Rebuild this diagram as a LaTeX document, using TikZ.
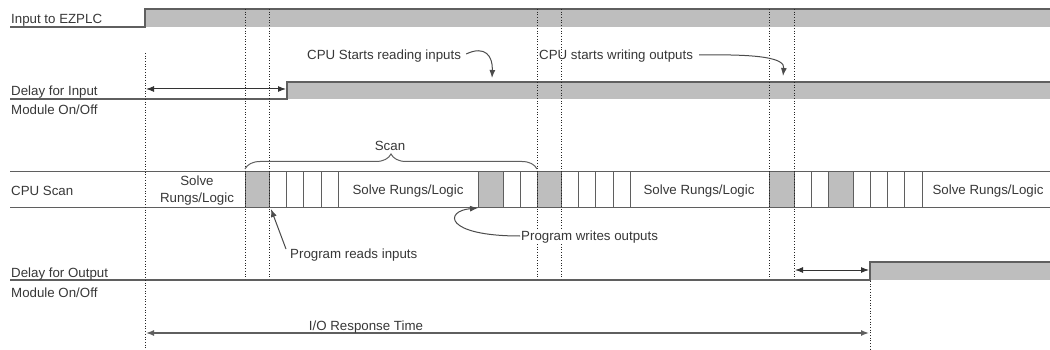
\documentclass[tikz,border=0pt]{standalone}
\usepackage{fontspec}
\setmainfont{Liberation Sans}
\usetikzlibrary{arrows.meta,decorations.pathreplacing}
\definecolor{bandfill}{RGB}{190,190,190}
\definecolor{sigline}{RGB}{95,95,95}
\definecolor{txt}{RGB}{55,55,55}
\tikzset{
  lbl/.style={text=txt, inner sep=1pt},
  sig/.style={draw=sigline, line width=1.6pt},
  guide/.style={dotted, line width=0.7pt, black!85},
  cell/.style={draw=sigline, line width=1pt},
  grcell/.style={draw=sigline, line width=1pt, fill=bandfill},
  dim/.style={draw=black!80, line width=1pt, {Latex[length=8pt,width=6pt]}-{Latex[length=8pt,width=6pt]}},
  iodim/.style={draw=sigline, line width=1.4pt, {Latex[length=8pt,width=6pt]}-{Latex[length=8pt,width=6pt]}},
  note/.style={draw=black!70, line width=1pt, -{Latex[length=8pt,width=6pt]}},
}
\begin{document}
\begin{tikzpicture}[x=1pt,y=-1pt,font=\fontsize{13.3}{17}\selectfont]
\useasboundingbox (0,0) rectangle (1050,350);

% signal bands
\fill[bandfill] (145,9) rectangle (1050,27);
\draw[sig] (10,27) -- (145,27) -- (145,9) -- (1050,9);
\fill[bandfill] (287,82) rectangle (1050,99);
\draw[sig] (10,99) -- (287,99) -- (287,82) -- (1050,82);
\fill[bandfill] (870,262) rectangle (1050,280);
\draw[sig] (10,280) -- (870,280) -- (870,262) -- (1050,262);

% CPU scan row
\draw[cell] (10,172) -- (1050,172);
\draw[cell] (10,207) -- (1050,207);
\foreach \a/\b in {245/269,478/503,537/561,769/794,828/853}
  \filldraw[grcell] (\a,172) rectangle (\b,207);
\foreach \x in {286,303,321,338,520,578,595,613,630,811,870,887,904,922}
  \draw[cell] (\x,172) -- (\x,207);

% dotted guides
\draw[guide] (145,53) -- (145,350);
\foreach \x in {245,269,537,561,769,794}
  \draw[guide] (\x,9) -- (\x,279);
\draw[guide] (870,281) -- (870,350);

% labels
\node[lbl,anchor=west] (lIn) at (10,20) {Input to EZPLC};
\node[lbl,anchor=west] (lDi) at (10,92) {Delay for Input};
\node[lbl,anchor=west] (lDi2) at (10,110) {Module On/Off};
\node[lbl,anchor=west] (lScan) at (10,191) {CPU Scan};
\node[lbl,anchor=west] (lDo) at (10,274) {Delay for Output};
\node[lbl,anchor=west] (lDo2) at (10,293) {Module On/Off};

% scan texts
\node[lbl,align=center] (s1) at (197,191) {Solve\\Rungs/Logic};
\node[lbl] (s2) at (408,191) {Solve Rungs/Logic};
\node[lbl] (s3) at (699,191) {Solve Rungs/Logic};
\node[lbl] (s4) at (988,191) {Solve Rungs/Logic};

% brace
\node[lbl] (scanlbl) at (390,146) {Scan};
\draw[sigline, line width=1pt, decorate, decoration={brace, amplitude=15pt}] (245,169) -- (537,169);

% notes
\node[lbl,anchor=west] (nRead) at (306,56) {CPU Starts reading inputs};
\node[lbl,anchor=west] (nWrite) at (538,56) {CPU starts writing outputs};
\node[lbl,anchor=west] (nPRI) at (289,255) {Program reads inputs};
\node[lbl,anchor=west,fill=white] (nPWO) at (520,237) {Program writes outputs};

\coordinate (aRead) at (492,78);
\draw[note] ([xshift=4pt,yshift=2pt]nRead.east) .. controls (485,45) and (493,56) .. (aRead);
\coordinate (aWrite) at (783,76);
\draw[note] ([xshift=5pt,yshift=1pt]nWrite.east) .. controls (760,54) and (785,58) .. (aWrite);
\coordinate (aPWO) at (478,208);
\draw[note] ([yshift=1pt]nPWO.west) .. controls (444,236) and (444,211) .. (aPWO);
\coordinate (aPRI) at (271,209);
\draw[note] ([xshift=-3pt,yshift=6pt]nPRI.west) -- (aPRI);

% dimension arrows
\coordinate (dIa) at (146,89);
\coordinate (dIb) at (286,89);
\draw[dim] (dIa) -- (dIb);
\coordinate (dOa) at (795,270);
\coordinate (dOb) at (869,270);
\draw[dim] (dOa) -- (dOb);
\coordinate (ioA) at (146,333);
\coordinate (ioB) at (869,333);
\draw[iodim] (ioA) -- (ioB);
\node[lbl] (ioText) at (366,327) {I/O Response Time};
\end{tikzpicture}
\end{document}
